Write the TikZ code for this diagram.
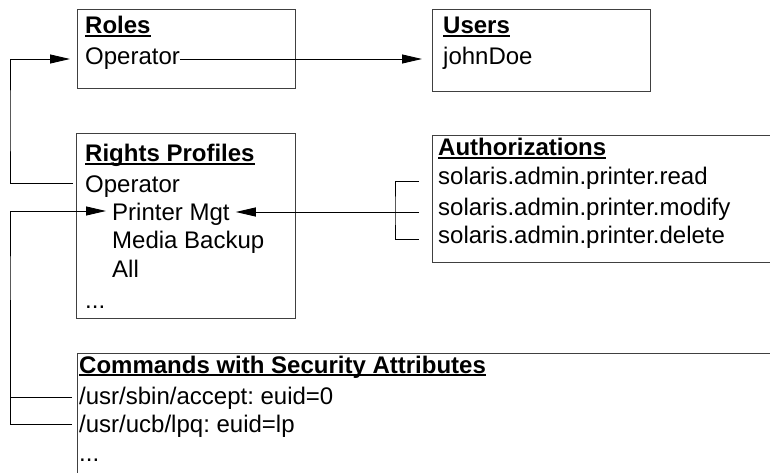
\documentclass[tikz,border=0pt]{standalone}
\usepackage{fontspec}
\setmainfont{Liberation Sans}
\usetikzlibrary{arrows.meta}
\frenchspacing

% bold heading with a rule that runs through the descenders
\newcommand\headul[1]{\setbox0\hbox{\bfseries #1}\rlap{\rule[-2.6pt]{\wd0}{1.2pt}}\box0}

\begin{document}
\begin{tikzpicture}[x=1pt,y=-1pt,
  panel/.style={draw=black!75, line width=1.3pt, inner sep=0pt, anchor=north west},
  txt/.style={inner sep=0pt, anchor=base west, text height=17pt, text depth=5pt,
              font=\fontsize{24}{29}\selectfont},
  conn/.style={draw=black, line width=0.9pt},
  tip/.style={-{Triangle[length=20pt,width=9pt]}}]
\clip (0,0) rectangle (770,473);
\useasboundingbox (0,0) rectangle (770,473);

% panels
\node[panel, minimum width=218pt, minimum height=79pt]  (roles)  at (77,9)   {};
\node[panel, minimum width=218pt, minimum height=82pt]  (users)  at (432,9)  {};
\node[panel, minimum width=219pt, minimum height=185pt] (rights) at (76,133) {};
\node[panel, minimum width=400pt, minimum height=127pt] (auths)  at (432,135) {};
\node[panel, minimum width=760pt, minimum height=160pt] (cmds)   at (77,353) {};

% Roles
\node[txt] (rolest)  at (85,34) {\headul{Roles}};
\node[txt] (rolesop) at (85,65) {Operator};

% Users
\node[txt] (userst) at (443,34) {\headul{Users}};
\node[txt] (jd)     at (443,65) {johnDoe};

% Rights Profiles
\node[txt] (rpt)    at (85,162)  {\headul{Rights Profiles}};
\node[txt] (rpop)   at (85,192)  {Operator};
\node[txt] (pm)     at (112,220) {Printer Mgt};
\node[txt] (mb)     at (112,248) {Media Backup};
\node[txt] (rpall)  at (112,277) {All};
\node[txt] (rpdots) at (85,308)  {...};

% Authorizations
\node[txt] (autht) at (438,156) {\headul{Authorizations}};
\node[txt] (ar)    at (438,185) {solaris.admin.printer.read};
\node[txt] (am)    at (438,215) {solaris.admin.printer.modify};
\node[txt] (ad)    at (438,243) {solaris.admin.printer.delete};

% Commands with Security Attributes
\node[txt] (cmdt)  at (79,373) {\headul{Commands with Security Attributes}};
\node[txt] (cacc)  at (79,404) {/usr/sbin/accept: euid=0};
\node[txt] (clpq)  at (79,432) {/usr/ucb/lpq: euid=lp};
\node[txt] (cdots) at (79,461) {...};

% rails for the left-hand and right-hand brackets
\coordinate (railA) at (10,120);
\coordinate (railB) at (10,300);
\coordinate (brk)   at (395,211);

% role -> user
\draw[conn,tip] (rolesop.east) -- ([xshift=-21pt]jd.west);

% rights profile -> role
\draw[conn,tip] ([xshift=-12pt,yshift=3pt]rpop.west) -| (railA) |- ([xshift=-15pt]rolesop.west);

% commands -> rights profile
\draw[conn,tip] ([xshift=-7pt,yshift=2pt]clpq.west) -| (railB) |- ([xshift=-6pt,yshift=3pt]pm.west);
\draw[conn] ([xshift=-7pt,yshift=1pt]cacc.west) -| (railB);

% authorizations -> rights profile
\draw[conn] ([xshift=-19pt,yshift=-2pt]ar.west) -| (brk) |- ([xshift=-19pt,yshift=-2pt]ad.west);
\draw[conn,tip] ([xshift=-19pt,yshift=-3pt]am.west) -- ([xshift=6pt,yshift=2pt]pm.east);
\end{tikzpicture}
\end{document}
